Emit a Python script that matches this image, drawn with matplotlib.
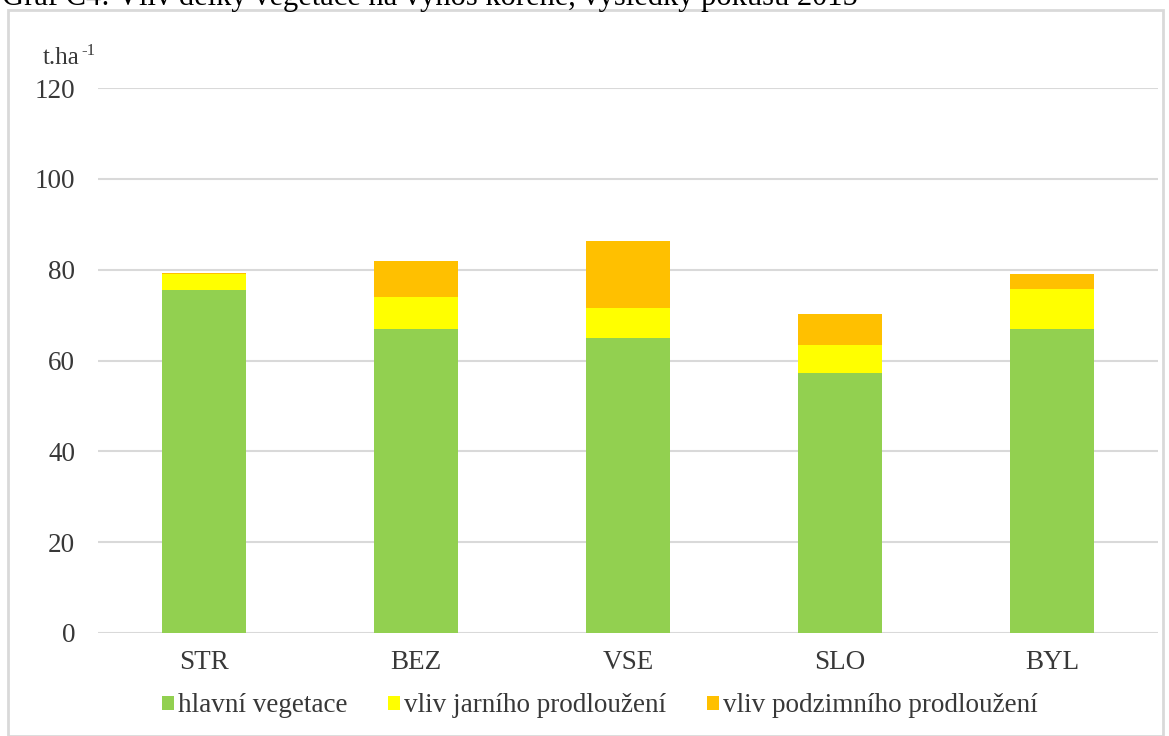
import matplotlib
matplotlib.use('Agg')
import matplotlib.pyplot as plt
import numpy as np
from matplotlib.patches import Rectangle

categories = ['STR', 'BEZ', 'VSE', 'SLO', 'BYL']
hlavni = [75.5, 66.9, 65.0, 57.3, 66.9]
jarni = [3.5, 7.0, 6.6, 6.1, 8.8]
podzimni = [0.3, 7.9, 14.7, 6.8, 3.3]
labels = ['hlavní vegetace', 'vliv jarního prodloužení', 'vliv podzimního prodloužení']
colors = ['#92D050', '#FFFF00', '#FFC000']

plt.rcParams['font.family'] = ['Liberation Serif', 'DejaVu Serif']
txt = '#383838'
fs = 19.5

fig = plt.figure(figsize=(11.69, 7.36), dpi=100)
ax = fig.add_axes([98/1169, (736-633)/736, 1060/1169, 545/736])

x = np.arange(len(categories))
w = 0.4
bottom = np.zeros(len(categories))
for vals, lab, col in zip([hlavni, jarni, podzimni], labels, colors):
    ax.bar(x, vals, w, bottom=bottom, color=col, label=lab, zorder=3)
    bottom += np.array(vals)

ax.set_xlim(-0.5, 4.5)
ax.set_ylim(0, 120)
ax.set_yticks(range(0, 121, 20))
ax.set_xticks(x)
ax.set_xticklabels(categories)
ax.grid(axis='y', color='#d9d9d9', linewidth=1.5, zorder=0)
for s in ax.spines.values():
    s.set_visible(False)
ax.tick_params(length=0, labelsize=fs, colors=txt)
ax.tick_params(axis='y', pad=16.5)
ax.tick_params(axis='x', pad=12)

# unit label with superscript
fig.text(43/1169, 1 - 64/736, 't.ha', fontsize=18, color=txt, va='baseline')
fig.text(81/1169, 1 - 55/736, '-1', fontsize=12, color=txt, va='baseline')

ax.legend(loc='center', bbox_to_anchor=(600/1169, (736-706)/736),
          bbox_transform=fig.transFigure, ncol=3, frameon=False, fontsize=fs,
          handlelength=0.45, handleheight=0.45, handletextpad=0.15, columnspacing=1.5,
          labelcolor=txt)

# frame of the chart area and the clipped caption above it
fig.patches.append(Rectangle((8/1169, 0), 1155/1169, 1 - 10/736, transform=fig.transFigure,
                             fill=False, edgecolor='#d9d9d9', linewidth=2))
fig.text(2/1169, 1 - 5/736, 'Graf C4: Vliv délky vegetace na výnos kořene, výsledky pokusu 2015',
         fontsize=22, color='black', va='baseline', ha='left')

fig.savefig('out.png', dpi=100)
